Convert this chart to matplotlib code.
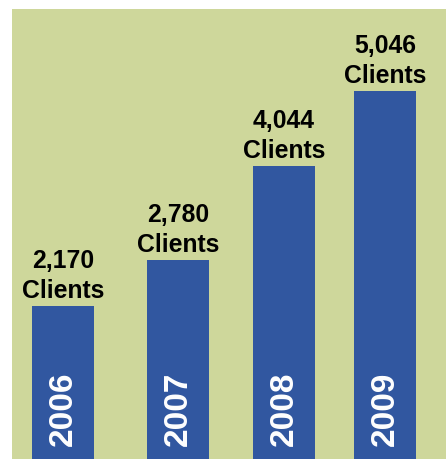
import matplotlib
matplotlib.use("Agg")
import matplotlib.pyplot as plt
import matplotlib.transforms as mtransforms

years = ["2006", "2007", "2008", "2009"]
clients = [2170, 2780, 4044, 5046]
value_labels = ["2,170", "2,780", "4,044", "5,046"]

# layout
xpos = [0.0, 1.071, 2.059, 3.0]
bar_color = "#3157A0"
bg_color = "#CED79B"

fig = plt.figure(figsize=(4.47, 4.60), dpi=100, facecolor="white")
ax = fig.add_axes([12 / 447, 0.0, 434 / 447, 450 / 460])
ax.set_facecolor(bg_color)

ax.bar(xpos, clients, width=0.578, color=bar_color, zorder=2)
ax.set_xlim(-0.475, 3.569)
ax.set_ylim(123, 6141)

for s in ax.spines.values():
    s.set_visible(False)
ax.set_xticks([])
ax.set_yticks([])

font = "Liberation Sans"
for x, v, lab in zip(xpos, clients, value_labels):
    ax.annotate(f"{lab}\nClients", xy=(x, v), xytext=(0, 3.0),
                textcoords="offset points", ha="center", va="bottom",
                fontsize=17.8, fontweight="bold", family=font,
                color="black", linespacing=1.32)

trans = mtransforms.blended_transform_factory(ax.transData, ax.transAxes)
for x, yr in zip(xpos, years):
    ax.text(x, 0.031, yr, transform=trans, rotation=90, ha="center",
            va="bottom", fontsize=24, fontweight="bold", family=font,
            color="white", zorder=3)

fig.savefig("out.png", dpi=100, facecolor="white")
